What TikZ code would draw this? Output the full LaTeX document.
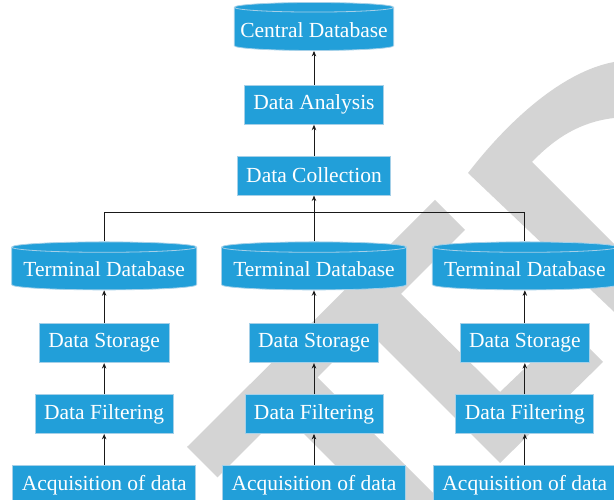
\documentclass[tikz,border=0pt]{standalone}
\usepackage{fontspec}
\setmainfont{Liberation Serif}
\usetikzlibrary{
  arrows.meta,
  positioning,
  shapes.geometric
}
\definecolor{boxblue}{RGB}{34,159,217}
\definecolor{boxedge}{RGB}{165,208,232}
\definecolor{wmgray}{RGB}{212,212,212}

\begin{document}
\begin{tikzpicture}[
  x=1pt, y=1pt,
  node distance=31pt and 24pt,
  box/.style={draw=boxedge, fill=boxblue, line width=0.8pt,
              minimum height=39pt, inner xsep=9pt,
              font={\fontsize{21.5}{24}\selectfont}, text=white},
  dbase/.style={box, cylinder, shape border rotate=90, aspect=0.06,
                minimum height=48pt, inner xsep=6pt},
  arr/.style={-{Stealth[length=5.5pt,width=4.5pt]}, line width=0.9pt, black!90},
  wire/.style={line width=0.9pt, black!90}
]
\clip (0,0) rectangle (614,500);

% watermark
\begin{scope}[y=-1pt, yshift=500pt]
\fill[wmgray] (435,200) -- (465,230) -- (401,294) -- (500,392) -- (568,327)
  -- (603,362) -- (500,463) -- (366,329) -- (317.5,377.5) -- (460,520)
  -- (390,520) -- (282.5,412.5) -- (217.5,477.5) -- (187,447) -- cycle;
\fill[wmgray] (468,173) .. controls (505,125) and (560,72) .. (614,62)
  -- (614,118) .. controls (580,122) and (555,138) .. (532,162)
  -- (650,280) -- (650,346) -- cycle;
\end{scope}

% top column
\node[dbase, minimum width=157pt] (cdb) at (314,470) {Central Database};
\node[box, below=34pt of cdb] (ana) {Data Analysis};
\node[box, below=of ana] (col) {Data Collection};

% terminal databases
\node[dbase, minimum width=185pt, below=46pt of col] (tdb2) {Terminal Database};
\node[dbase, minimum width=185pt, left=of tdb2] (tdb1) {Terminal Database};
\node[dbase, minimum width=185pt, right=25pt of tdb2] (tdb3) {Terminal Database};

% left column
\node[box, below=33pt of tdb1] (sto1) {Data Storage};
\node[box, below=of sto1] (fil1) {Data Filtering};
\node[box, below=of fil1] (acq1) {Acquisition of data};

% middle column
\node[box, below=33pt of tdb2] (sto2) {Data Storage};
\node[box, below=of sto2] (fil2) {Data Filtering};
\node[box, below=of fil2] (acq2) {Acquisition of data};

% right column
\node[box, below=33pt of tdb3] (sto3) {Data Storage};
\node[box, below=of sto3] (fil3) {Data Filtering};
\node[box, below=of fil3] (acq3) {Acquisition of data};

\draw[arr] (ana) -- (cdb);
\draw[arr] (col) -- (ana);
\draw[arr] (tdb2) -- (col);
\coordinate[below=17pt of col.south] (bus);
\draw[wire] (tdb1.north) |- (bus) -| (tdb3.north);

\draw[arr] (sto1) -- (tdb1);
\draw[arr] (fil1) -- (sto1);
\draw[arr] (acq1) -- (fil1);
\draw[arr] (sto2) -- (tdb2);
\draw[arr] (fil2) -- (sto2);
\draw[arr] (acq2) -- (fil2);
\draw[arr] (sto3) -- (tdb3);
\draw[arr] (fil3) -- (sto3);
\draw[arr] (acq3) -- (fil3);
\end{tikzpicture}
\end{document}
